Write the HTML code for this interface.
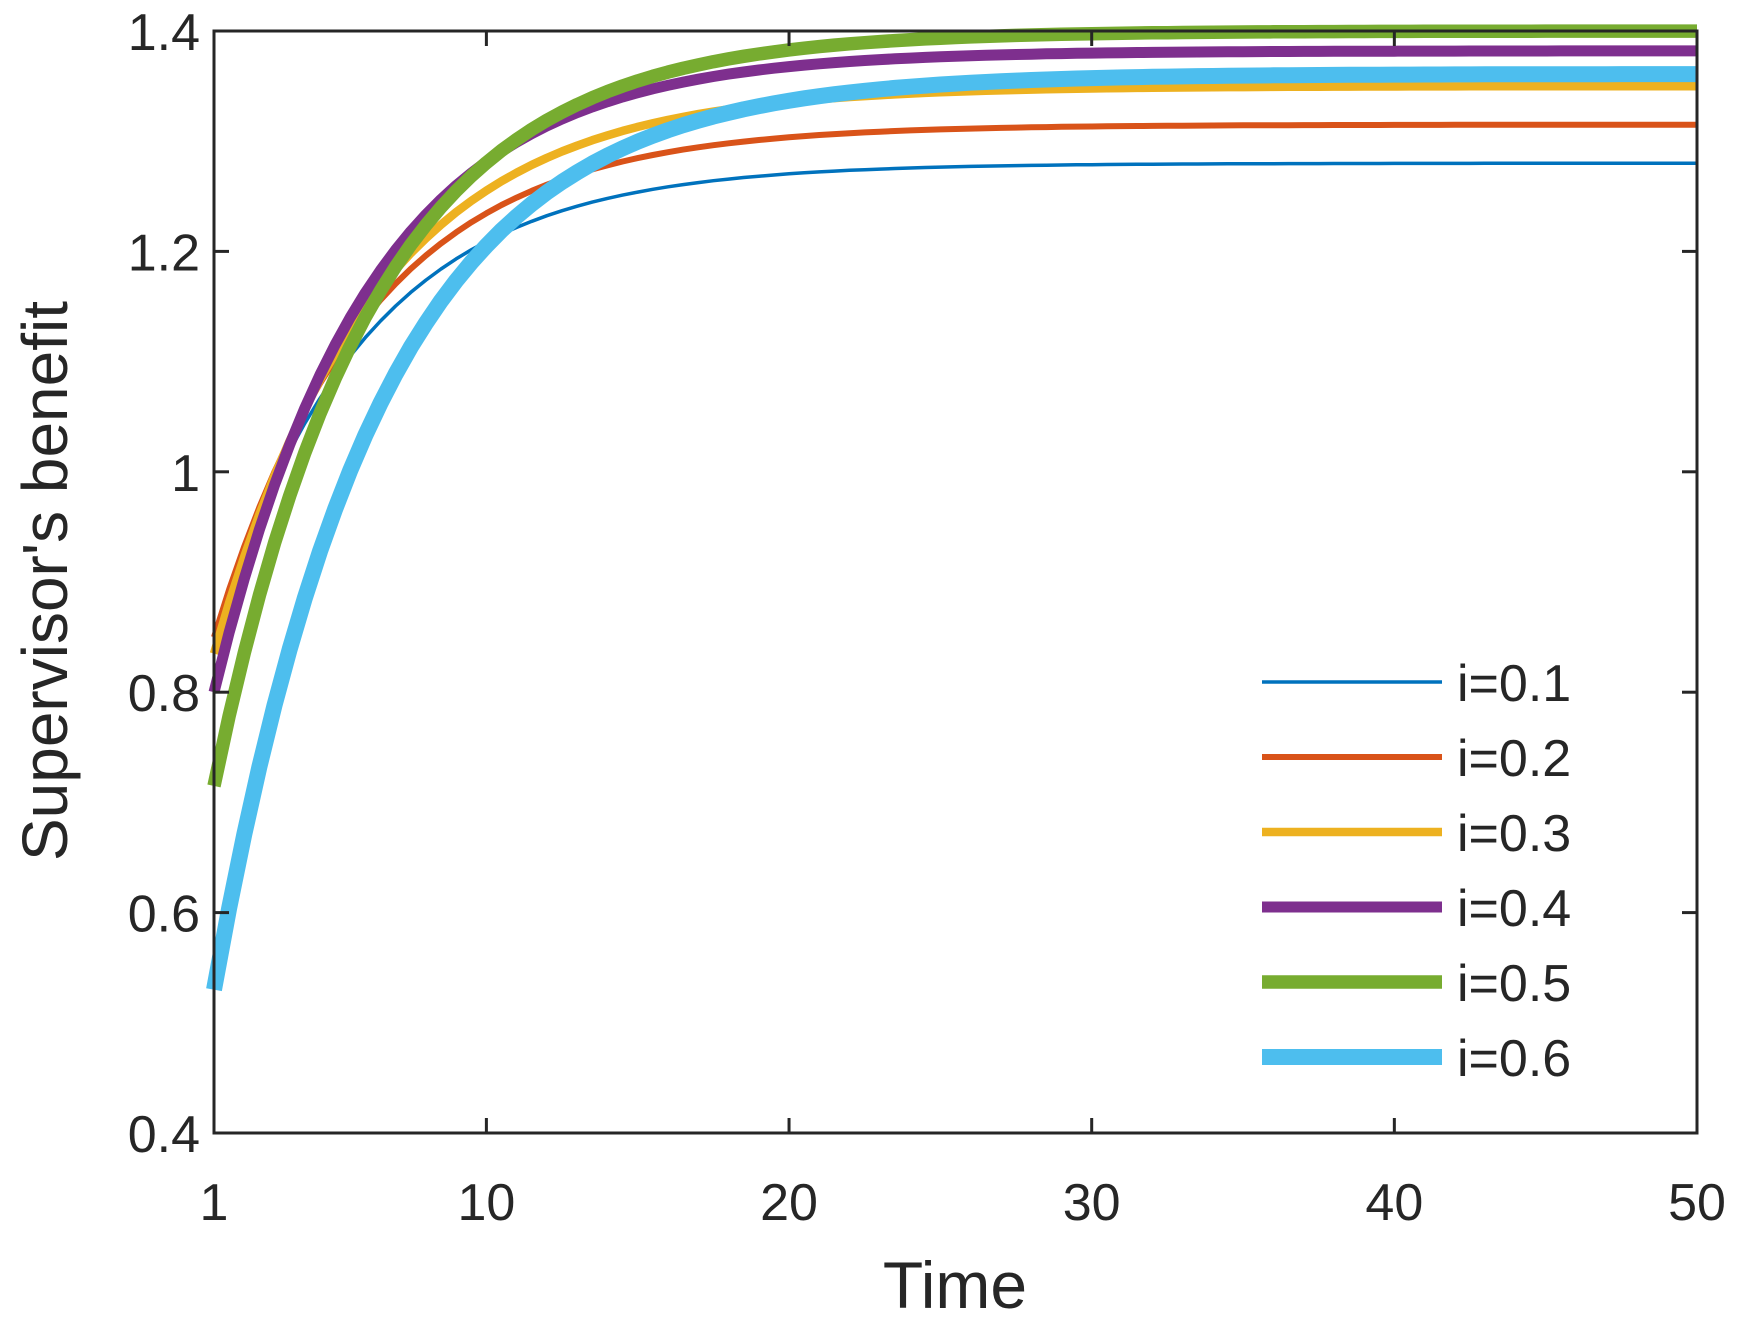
<!DOCTYPE html>
<html><head><meta charset="utf-8"><style>
html,body{margin:0;padding:0;background:#fff;}
svg text{font-family:"Liberation Sans",Arial,sans-serif;fill:#262626;}
</style></head><body>
<svg id="s" width="1742" height="1323" viewBox="0 0 1742 1323" xmlns="http://www.w3.org/2000/svg">
<rect width="1742" height="1323" fill="#fff"/>
<g id="curves" fill="none" stroke-linejoin="round"></g>
<g id="axes" stroke="#262626" stroke-width="3" fill="none"></g>
<g id="labels" font-size="52"></g>
<text x="955" y="1308" font-size="66" text-anchor="middle">Time</text>
<text transform="translate(67,581) rotate(-90)" font-size="64" text-anchor="middle">Supervisor's benefit</text>
<g id="legend" font-size="52"></g>
</svg>
<script>
var L=214,R=1697,T=31,B=1133;
function X(t){return L+(t-1)*(R-L)/49;}
function Y(v){return B-(v-0.4)*(B-T)/1.0;}
var ns="http://www.w3.org/2000/svg";
function el(p,tag,a,txt){var e=document.createElementNS(ns,tag);for(var k in a)e.setAttribute(k,a[k]);if(txt!=null)e.textContent=txt;document.getElementById(p).appendChild(e);return e;}
var series=[
 ["#0072BD",3.5,0.85,1.28,0.20,"i=0.1"],
 ["#D95319",6,0.85,1.315,0.195,"i=0.2"],
 ["#EDB120",8.5,0.835,1.35,0.188,"i=0.3"],
 ["#7E2F8E",11,0.80,1.382,0.195,"i=0.4"],
 ["#77AC30",13.5,0.715,1.40,0.194,"i=0.5"],
 ["#4DBEEE",16,0.53,1.361,0.186,"i=0.6"]
];
series.forEach(function(s,i){
  var d="";
  for(var t=1;t<=50;t+=0.5){var v=s[3]-(s[3]-s[2])*Math.exp(-s[4]*(t-1));d+=(t==1?"M":"L")+X(t).toFixed(1)+" "+Y(v).toFixed(1)+" ";}
  el("curves","path",{d:d,stroke:s[0],"stroke-width":s[1]});
  var ly=682+i*75;
  el("legend","line",{x1:1262,x2:1442,y1:ly,y2:ly,stroke:s[0],"stroke-width":s[1]});
  el("legend","text",{x:1457,y:ly+19},s[5]);
});
el("axes","rect",{x:L,y:T,width:R-L,height:B-T});
[1,10,20,30,40,50].forEach(function(t){var x=X(t);
  el("axes","line",{x1:x,x2:x,y1:B,y2:B-15});el("axes","line",{x1:x,x2:x,y1:T,y2:T+15});
  el("labels","text",{x:x,y:1220,"text-anchor":"middle"},String(t));});
[0.4,0.6,0.8,1,1.2,1.4].forEach(function(v){var y=Y(v);
  el("axes","line",{x1:L,x2:L+15,y1:y,y2:y});el("axes","line",{x1:R,x2:R-15,y1:y,y2:y});
  el("labels","text",{x:200,y:y+19,"text-anchor":"end"},v==1?"1":v.toFixed(1));});
</script>
</body></html>
